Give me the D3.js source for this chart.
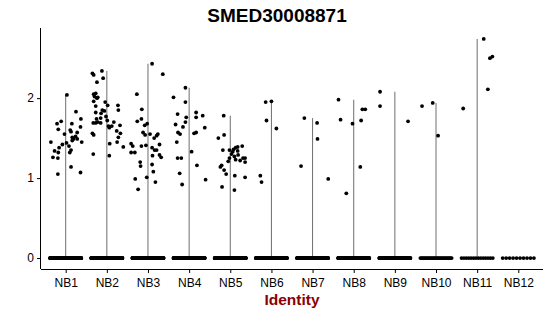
<!DOCTYPE html>
<html>
	<head>
		<script src="https://d3js.org/d3.v7.min.js"></script>
		<title>SMED30008871</title>
		<style>
			body { margin: 0; background: #fff; }
			text { font-family: "Liberation Sans", Arial, sans-serif; }
		</style>
	</head>
	<body>
		<svg width="550" height="316"></svg>
		<script>
			// identities on the x axis
			const categories = ["NB1", "NB2", "NB3", "NB4", "NB5", "NB6", "NB7", "NB8", "NB9", "NB10", "NB11", "NB12"];
			const yTicks = [0, 1, 2];

			// non-zero cells per identity: [horizontal jitter (fraction of a step), expression]
			const nb1 = [[0.03,2.04],[0.25,1.83],[-0.21,1.68],[-0.11,1.71],[-0.18,1.61],[0.15,1.68],[0.37,1.74],[0.11,1.60],[0.13,1.58],[0.36,1.64],[0.28,1.57],[-0.03,1.55],[0.16,1.51],[0.24,1.52],[0.19,1.49],[0.28,1.49],[0.16,1.47],[0.39,1.45],[-0.36,1.45],[-0.08,1.42],[0.02,1.44],[0.08,1.40],[-0.16,1.38],[-0.27,1.34],[-0.18,1.32],[0.13,1.35],[0.10,1.32],[-0.31,1.26],[-0.19,1.25],[0.13,1.14],[0.36,1.07],[-0.19,1.05]];
			const nb2 = [[-0.12,2.34],[-0.35,2.31],[-0.32,2.29],[-0.09,2.25],[-0.24,2.20],[-0.32,2.05],[-0.27,2.06],[-0.30,2.02],[-0.22,2.01],[-0.32,1.96],[-0.24,2.00],[-0.04,1.95],[0.02,1.91],[-0.27,1.90],[0.27,1.91],[0.28,1.85],[-0.11,1.85],[-0.06,1.84],[-0.27,1.82],[-0.14,1.81],[-0.02,1.77],[-0.15,1.75],[-0.25,1.74],[0.01,1.72],[-0.33,1.69],[-0.27,1.69],[-0.15,1.69],[-0.22,1.70],[0.17,1.70],[0.04,1.65],[0.12,1.65],[0.32,1.66],[0.06,1.63],[0.24,1.59],[-0.35,1.56],[-0.32,1.54],[0.33,1.56],[0.28,1.51],[0.25,1.45],[0.07,1.43],[0.40,1.39],[-0.33,1.30],[0.06,1.28]];
			const nb3 = [[0.10,2.43],[0.36,2.30],[-0.27,2.05],[-0.15,1.86],[-0.26,1.71],[-0.16,1.74],[-0.08,1.66],[-0.02,1.68],[-0.12,1.57],[-0.07,1.54],[0.05,1.55],[0.24,1.55],[0.21,1.53],[0.15,1.50],[-0.05,1.41],[-0.16,1.40],[-0.41,1.43],[-0.37,1.40],[0.10,1.38],[0.16,1.35],[0.28,1.42],[0.21,1.35],[-0.41,1.32],[-0.32,1.32],[0.28,1.29],[0.32,1.26],[0.11,1.28],[-0.19,1.20],[-0.18,1.15],[0.10,1.17],[0.13,1.08],[-0.03,1.01],[-0.31,0.99],[0.18,0.95],[-0.24,0.86]];
			const nb4 = [[-0.09,2.13],[-0.38,2.01],[-0.09,1.95],[0.17,1.82],[-0.28,1.80],[-0.07,1.76],[0.17,1.76],[0.33,1.78],[-0.09,1.70],[-0.33,1.67],[-0.15,1.64],[0.38,1.63],[-0.27,1.57],[-0.22,1.55],[0.12,1.56],[0.17,1.57],[-0.30,1.45],[0.06,1.33],[-0.28,1.25],[-0.19,1.25],[0.19,1.16],[-0.23,1.06],[0.40,0.98],[-0.17,0.92]];
			const nb5 = [[-0.16,1.78],[-0.29,1.50],[-0.15,1.54],[-0.18,1.35],[-0.02,1.35],[0.13,1.38],[0.18,1.39],[0.29,1.40],[0.06,1.33],[0.18,1.34],[0.03,1.30],[0.19,1.29],[-0.02,1.25],[0.31,1.25],[0.13,1.23],[0.24,1.22],[0.36,1.25],[0.36,1.20],[-0.05,1.21],[0.08,1.36],[0.10,1.27],[-0.21,1.16],[-0.24,1.14],[-0.15,1.10],[-0.10,1.05],[0.11,1.03],[0.36,1.01],[-0.20,0.89],[0.10,0.85]];
			const nb6 = [[-0.14,1.95],[0.00,1.96],[-0.12,1.72],[0.12,1.62],[-0.27,1.03],[-0.24,0.95]];
			const nb7 = [[-0.20,1.75],[0.11,1.69],[0.12,1.49],[-0.28,1.15],[0.38,0.99]];
			const nb8 = [[-0.37,1.98],[-0.32,1.73],[-0.03,1.68],[0.21,1.86],[0.28,1.86],[0.18,1.72],[0.16,1.14],[-0.18,0.81]];
			const nb9 = [[-0.36,2.08],[-0.36,1.90],[0.32,1.71]];
			const nb10 = [[-0.34,1.90],[-0.08,1.94],[0.05,1.53]];
			const nb11 = [[0.16,2.74],[0.31,2.50],[0.37,2.52],[0.26,2.11],[-0.34,1.87]];
			const nb12 = [];
			const expressed = [nb1, nb2, nb3, nb4, nb5, nb6, nb7, nb8, nb9, nb10, nb11, nb12];

			// cells with zero expression per identity (estimated)
			const zeroCounts = [300, 320, 300, 300, 300, 220, 200, 200, 150, 30, 14, 10];

			const svg = d3.select("svg");
			const margin = {top: 28, right: 7, bottom: 47, left: 41};
			const width = +svg.attr("width"), height = +svg.attr("height");

			const yMax = d3.max(expressed.flat(), d => d[1]);
			const pad = yMax * 0.05;

			const x = d3.scalePoint()
				.domain(categories)
				.range([margin.left, width - margin.right])
				.padding(0.6);
			const step = x.step();

			const y = d3.scaleLinear()
				.domain([-pad, yMax + pad])
				.range([height - margin.bottom, margin.top]);

			// violins collapse to a thin line from 0 up to the group max
			const viol = svg.append("g").attr("stroke", "#6e6e6e").attr("stroke-width", 1);
			viol.selectAll("line.stem")
				.data(categories.map((c, i) => ({c: c, max: d3.max(expressed[i], d => d[1]) || 0})).filter(d => d.max > 0))
				.join("line")
				.attr("class", "stem")
				.attr("x1", d => x(d.c)).attr("x2", d => x(d.c))
				.attr("y1", y(0)).attr("y2", d => y(d.max));
			// the wide base of each violin at zero
			viol.selectAll("line.base")
				.data(categories)
				.join("line")
				.attr("class", "base")
				.attr("x1", d => x(d) - 0.4 * step).attr("x2", d => x(d) + 0.4 * step)
				.attr("y1", y(0)).attr("y2", y(0));

			// zero cells, spread across the jitter width
			const zeros = [];
			categories.forEach((c, i) => {
				const n = zeroCounts[i];
				for (let k = 0; k < n; k++) {
					zeros.push({c: c, j: n > 1 ? -0.38 + 0.76 * k / (n - 1) : 0});
				}
			});

			const pts = svg.append("g");
			pts.selectAll("circle.zero")
				.data(zeros)
				.join("circle")
				.attr("class", "zero")
				.attr("cx", d => x(d.c) + d.j * step)
				.attr("cy", y(0))
				.attr("r", 1.9)
				.attr("fill", "#000");

			pts.selectAll("circle.expr")
				.data(categories.flatMap((c, i) => expressed[i].map(p => ({c: c, j: p[0], v: p[1]}))))
				.join("circle")
				.attr("class", "expr")
				.attr("cx", d => x(d.c) + d.j * step)
				.attr("cy", d => y(d.v))
				.attr("r", 1.9)
				.attr("fill", "#000");

			// axes
			const xAxis = svg.append("g")
				.attr("transform", `translate(0,${height - margin.bottom})`)
				.call(d3.axisBottom(x).tickSize(4).tickSizeOuter(0));
			xAxis.select(".domain").attr("d", `M${margin.left},0.5H${width - margin.right}`);
			xAxis.selectAll("text").attr("font-size", 12).attr("fill", "#000").attr("dy", "0.9em");

			const yAxis = svg.append("g")
				.attr("transform", `translate(${margin.left},0)`)
				.call(d3.axisLeft(y).tickValues(yTicks).tickFormat(d3.format("d")).tickSize(4).tickSizeOuter(0));
			yAxis.select(".domain").attr("d", `M-0.5,${margin.top}V${height - margin.bottom}`);
			yAxis.selectAll("text").attr("font-size", 12).attr("fill", "#000").attr("x", -7);

			svg.append("text")
				.attr("x", 277).attr("y", 22)
				.attr("text-anchor", "middle")
				.attr("font-size", 19)
				.attr("font-weight", "bold")
				.text("SMED30008871");

			svg.append("text")
				.attr("x", (margin.left + width - margin.right) / 2).attr("y", 305)
				.attr("text-anchor", "middle")
				.attr("font-size", 15.5)
				.attr("font-weight", "bold")
				.attr("fill", "#8b0000")
				.text("Identity");
		</script>
	</body>
</html>
